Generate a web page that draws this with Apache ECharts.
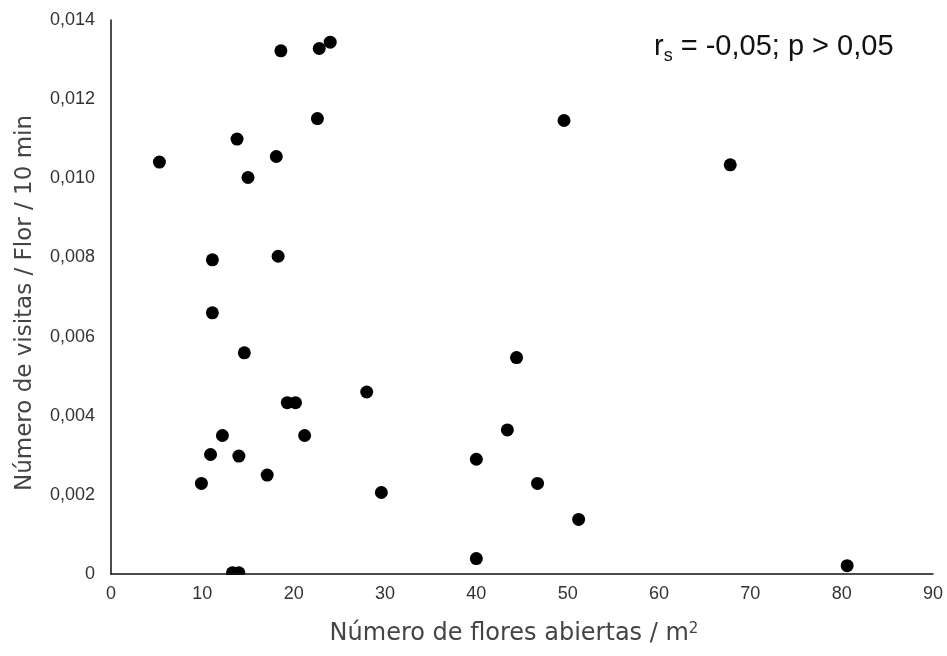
<!DOCTYPE html>
<html>
<head>
<meta charset="utf-8">
<script src="https://cdn.jsdelivr.net/npm/echarts@6/dist/echarts.min.js"></script>
<style>html,body{margin:0;padding:0;background:#fff;}#c{width:947px;height:656px;}</style>
</head>
<body>
<div id="c"></div>
<script>
// Number of open flowers per m2
const flowersPerM2 = [5.3, 13.8, 15.0, 18.1, 18.6, 22.8, 24.0, 22.6, 11.1, 18.3, 11.1, 14.6, 28.0, 19.3, 20.2, 12.2, 21.2, 10.9, 14.0, 9.9, 17.1, 29.6, 40.0, 40.0, 13.3, 14.0, 49.6, 67.8, 44.4, 43.4, 46.7, 51.2, 80.6];
// Visits per flower per 10 min
const visitsPerFlower = [0.01041, 0.01099, 0.01002, 0.01055, 0.01322, 0.01328, 0.01344, 0.01151, 0.00794, 0.00803, 0.00660, 0.00559, 0.00460, 0.00433, 0.00433, 0.00350, 0.00350, 0.00302, 0.00298, 0.00229, 0.00250, 0.00206, 0.00290, 0.00039, 0.00003, 0.00003, 0.01146, 0.01034, 0.00547, 0.00364, 0.00229, 0.00138, 0.00021];
const xTicks = [0, 10, 20, 30, 40, 50, 60, 70, 80, 90];
const yTicks = ['0', '0,002', '0,004', '0,006', '0,008', '0,010', '0,012', '0,014'];

const points = flowersPerM2.map((x, i) => [x, visitsPerFlower[i]]);
const chart = echarts.init(document.getElementById('c'), null, {renderer: 'canvas'});
const G = {left: 111, right: 14, top: 20, bottom: 82};
chart.setOption({
  backgroundColor: '#ffffff',
  animation: false,
  title: {
    text: '{a|r}{b|s}{a| = -0,05; p > 0,05}',
    left: 649, top: 27,
    textStyle: {
      rich: {
        a: {fontFamily: 'Liberation Sans', fontSize: 29, fontWeight: 'normal', color: '#111'},
        b: {fontFamily: 'Liberation Sans', fontSize: 18, fontWeight: 'normal', color: '#111', verticalAlign: 'bottom', padding: [0, 0, -4, 0]}
      }
    }
  },
  grid: G,
  // white strip just under the x axis so marks sitting on the axis look cut by it
  graphic: [{
    type: 'rect', z: 3, silent: true,
    left: G.left, top: 656 - G.bottom + 1,
    shape: {width: 947 - G.left - G.right, height: 9},
    style: {fill: '#ffffff'}
  }],
  xAxis: {
    type: 'value', min: 0, max: 90, interval: 10, z: 5,
    name: 'Número de flores abiertas / m{sup|2}',
    nameLocation: 'middle', nameGap: 48,
    nameTextStyle: {fontFamily: 'DejaVu Sans', fontSize: 24, color: '#444', padding: [0, 16, 0, 0],
      rich: {sup: {fontFamily: 'DejaVu Sans', fontSize: 15, color: '#444', verticalAlign: 'top'}}},
    axisLine: {lineStyle: {color: '#111', width: 1.5}},
    axisTick: {show: false},
    splitLine: {show: false},
    axisLabel: {fontFamily: 'Liberation Sans', fontSize: 18, color: '#333', margin: 11,
      formatter: v => String(xTicks[Math.round(v / 10)])}
  },
  yAxis: {
    type: 'value', min: 0, max: 0.014, interval: 0.002, z: 5,
    name: 'Número de visitas / Flor / 10 min',
    nameLocation: 'middle', nameGap: 74,
    nameTextStyle: {fontFamily: 'DejaVu Sans', fontSize: 23, color: '#444', padding: [0, 12, 0, 0]},
    axisLine: {show: true, lineStyle: {color: '#111', width: 1.5}},
    axisTick: {show: false},
    splitLine: {show: false},
    axisLabel: {fontFamily: 'Liberation Sans', fontSize: 18, color: '#333', margin: 16,
      formatter: v => yTicks[Math.round(v / 0.002)]}
  },
  series: [{
    type: 'scatter',
    data: points,
    symbol: 'circle',
    symbolSize: 13,
    z: 2,
    itemStyle: {color: '#000000', opacity: 1}
  }]
});
</script>
</body>
</html>
